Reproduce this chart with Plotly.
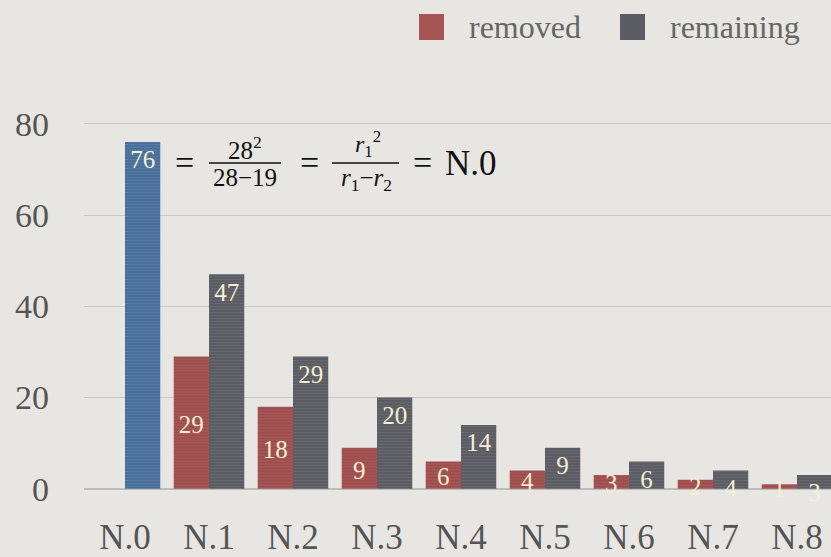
import plotly.graph_objects as go

# Chart data
categories = ["N.0", "N.1", "N.2", "N.3", "N.4", "N.5", "N.6", "N.7", "N.8"]
removed = [None, 29, 18, 9, 6, 4, 3, 2, 1]
remaining = [76, 47, 29, 20, 14, 9, 6, 4, 3]
y_ticks = [0, 20, 40, 60, 80]

RED = "#a65353"
GRAY = "#5b5c64"
BLUE = "#48709b"
LABEL = "#f4efd2"
BG = "#e7e6e2"
SERIF = "Liberation Serif"

W, H = 831, 557
L, R, T, PB = 84, 831, 101, 507   # plot area in pixels
Y_MIN, Y_MAX = -4, 85
BAR_W = 0.42

idx = list(range(len(categories)))
remaining_colors = [BLUE] + [GRAY] * (len(categories) - 1)

def px_x(x):
    return (x - L) / (R - L)

def px_y(y):
    return (PB - y) / (PB - T)

def texture():
    # faint horizontal streaks across the bar fill
    return dict(shape="-", fillmode="overlay", fgcolor="#000000", fgopacity=0.08,
                size=3, solidity=0.3)

fig = go.Figure()

fig.add_trace(go.Bar(
    x=idx, y=removed, width=BAR_W, offset=-BAR_W,
    marker=dict(color=RED, line=dict(width=0), pattern=texture()),
    showlegend=False, hoverinfo="skip",
))
fig.add_trace(go.Bar(
    x=idx, y=remaining, width=BAR_W, offset=0,
    marker=dict(color=remaining_colors, line=dict(width=0), pattern=texture()),
    showlegend=False, hoverinfo="skip",
))

# value labels: removed centred in the bar, remaining hung below the bar top
rem_x = [i - BAR_W / 2 for i, v in zip(idx, removed) if v is not None]
rem_v = [v for v in removed if v is not None]
fig.add_trace(go.Scatter(
    x=rem_x, y=[v / 2 - 0.9 for v in rem_v], mode="text",
    text=[str(v) for v in rem_v], cliponaxis=False,
    textfont=dict(family=SERIF, size=25, color=LABEL),
    showlegend=False, hoverinfo="skip",
))
fig.add_trace(go.Scatter(
    x=[i + BAR_W / 2 for i in idx], y=[v - 4.4 for v in remaining], mode="text",
    text=[str(v) for v in remaining], cliponaxis=False,
    textfont=dict(family=SERIF, size=25, color=LABEL),
    showlegend=False, hoverinfo="skip",
))

shapes = []
annotations = []

# legend drawn as squares plus labels above the plot
for x0, name, color in [(419, "removed", RED), (620, "remaining", GRAY)]:
    shapes.append(dict(type="rect", xref="paper", yref="paper",
                       x0=px_x(x0), x1=px_x(x0 + 25), y0=px_y(40), y1=px_y(14),
                       fillcolor=color, line=dict(width=0)))
    annotations.append(dict(text=name, xref="paper", yref="paper",
                            x=px_x(x0 + 48), y=px_y(27), xanchor="left", yanchor="middle",
                            showarrow=False,
                            font=dict(family=SERIF, size=32, color="#666666")))

# formula next to the N.0 bar
def note(text, x, y, size):
    annotations.append(dict(text=text, xref="paper", yref="paper",
                            x=px_x(x), y=px_y(y), xanchor="center", yanchor="middle",
                            showarrow=False,
                            font=dict(family=SERIF, size=size, color="#111111")))

def frac_line(x0, x1, y):
    shapes.append(dict(type="line", xref="paper", yref="paper",
                       x0=px_x(x0), x1=px_x(x1), y0=px_y(y), y1=px_y(y),
                       line=dict(color="#111111", width=1.5)))

note("=", 184, 162, 34)
note("28<sup>2</sup>", 245, 148, 25)
frac_line(209, 281, 163)
note("28−19", 245, 177, 25)
note("=", 309, 162, 34)
note("<i>r</i><sub>1</sub><sup>2</sup>", 368, 144, 24)
frac_line(332, 399, 163)
note("<i>r</i><sub>1</sub>−<i>r</i><sub>2</sub>", 366, 179, 25)
note("=", 422, 162, 34)
note("N.0", 471, 163, 35)

fig.update_layout(
    width=W, height=H,
    margin=dict(l=L, r=W - R, t=T, b=H - PB, pad=0),
    paper_bgcolor=BG, plot_bgcolor=BG,
    barmode="overlay",
    shapes=shapes, annotations=annotations,
    xaxis=dict(range=[-0.488, 8.405], tickmode="array", tickvals=idx, ticktext=categories,
               showgrid=False, zeroline=False, showline=False, ticks="",
               ticklabelstandoff=6, automargin=False,
               tickfont=dict(family=SERIF, size=35, color="#555555")),
    yaxis=dict(range=[Y_MIN, Y_MAX], tickmode="array", tickvals=y_ticks,
               showgrid=True, gridcolor="#c7c7c4", gridwidth=1,
               zeroline=True, zerolinecolor="#bdbdbb", zerolinewidth=2,
               showline=False, ticks="", ticklabelstandoff=34, automargin=False,
               tickfont=dict(family=SERIF, size=34, color="#555555")),
)

fig.write_html("out.html")
